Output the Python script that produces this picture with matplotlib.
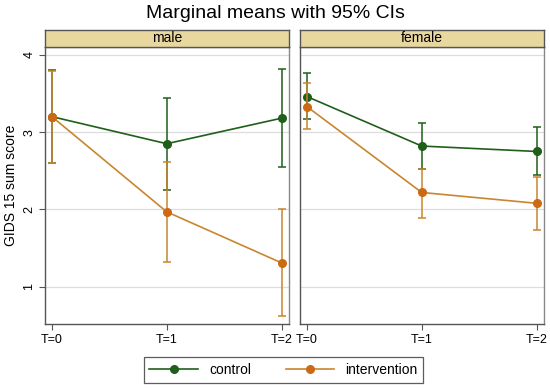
import matplotlib.pyplot as plt
from matplotlib.lines import Line2D

plt.rcParams['font.family'] = ['Liberation Sans', 'DejaVu Sans']

# data
times = ["T=0", "T=1", "T=2"]
panels = ["male", "female"]

control_mean = {"male": [3.20, 2.85, 3.18], "female": [3.46, 2.82, 2.75]}
control_lo = {"male": [2.60, 2.25, 2.55], "female": [3.17, 2.52, 2.45]}
control_hi = {"male": [3.80, 3.44, 3.81], "female": [3.76, 3.12, 3.06]}

interv_mean = {"male": [3.20, 1.97, 1.31], "female": [3.33, 2.22, 2.08]}
interv_lo = {"male": [2.60, 1.32, 0.62], "female": [3.04, 1.89, 1.74]}
interv_hi = {"male": [3.79, 2.62, 2.00], "female": [3.63, 2.52, 2.42]}

green = "#1f5f1a"
orange_line = "#c8862e"
orange_mark = "#cc6a14"
strip_col = "#e8d8a0"
frame_col = "#555555"

W, H = 550, 389
fig = plt.figure(figsize=(W / 100, H / 100), dpi=100)
fig.patch.set_facecolor("white")

def px_rect(x0, y0, x1, y1):
    return [x0 / W, 1 - y1 / H, (x1 - x0) / W, (y1 - y0) / H]

lefts = [45, 300]
width = 244
for i, p in enumerate(panels):
    x0 = lefts[i]
    ax = fig.add_axes(px_rect(x0, 47, x0 + width, 324))
    xs = list(range(len(times)))

    # control
    ym = control_mean[p]
    ax.errorbar(xs, ym,
                yerr=[[m - l for m, l in zip(ym, control_lo[p])],
                      [h - m for m, h in zip(ym, control_hi[p])]],
                color=green, ecolor=green, elinewidth=1.1, capsize=3, capthick=1.1,
                lw=1.2, marker="o", ms=5.5, mfc=green, mec=green, zorder=3)
    # intervention
    ym = interv_mean[p]
    ax.errorbar(xs, ym,
                yerr=[[m - l for m, l in zip(ym, interv_lo[p])],
                      [h - m for m, h in zip(ym, interv_hi[p])]],
                color=orange_line, ecolor=orange_line, elinewidth=1.1, capsize=3, capthick=1.1,
                lw=1.2, marker="o", ms=5.5, mfc=orange_mark, mec=orange_mark, zorder=4)

    ax.set_xlim(-0.06, 2.065)
    ax.set_ylim(0.52, 4.10)
    ax.set_xticks(xs)
    ax.set_xticklabels(times, fontsize=9)
    ax.set_yticks([1, 2, 3, 4])
    ax.grid(axis="y", color="#dddddd", lw=0.9)
    ax.set_axisbelow(True)
    for s in ax.spines.values():
        s.set_color("#888888")
        s.set_linewidth(1.0)
    ax.spines["left"].set_color(frame_col)
    ax.spines["bottom"].set_color(frame_col)
    ax.tick_params(axis="x", direction="out", length=4, color=frame_col, pad=3)
    if i == 0:
        ax.set_yticklabels(["1", "2", "3", "4"], fontsize=9, rotation=90, va="center")
        ax.tick_params(axis="y", direction="out", length=4, color=frame_col, pad=3)
        ax.set_ylabel("GIDS 15 sum score", fontsize=10, labelpad=4)
    else:
        ax.tick_params(axis="y", left=False, labelleft=False)

    # strip header
    sax = fig.add_axes(px_rect(x0, 30, x0 + width, 47))
    sax.set_facecolor(strip_col)
    sax.set_xticks([])
    sax.set_yticks([])
    for s in sax.spines.values():
        s.set_color(frame_col)
        s.set_linewidth(1.0)
    sax.text(0.5, 0.5, p, ha="center", va="center", fontsize=10, transform=sax.transAxes)

fig.text(0.5, 1 - 14 / H, "Marginal means with 95% CIs", ha="center", va="center", fontsize=14)

handles = [
    Line2D([], [], color=green, lw=1.2, marker="o", ms=5.5, mfc=green, mec=green),
    Line2D([], [], color=orange_line, lw=1.2, marker="o", ms=5.5, mfc=orange_mark, mec=orange_mark),
]
leg = fig.legend(handles, ["control", "intervention"], loc="center",
                 bbox_to_anchor=(283.5 / W, 1 - 370 / H),
                 ncol=2, fontsize=10, frameon=True, fancybox=False, edgecolor="#333333",
                 handlelength=3.5, columnspacing=2.5, borderpad=0.4)
leg.get_frame().set_linewidth(0.9)

fig.savefig("out.png", dpi=100)
